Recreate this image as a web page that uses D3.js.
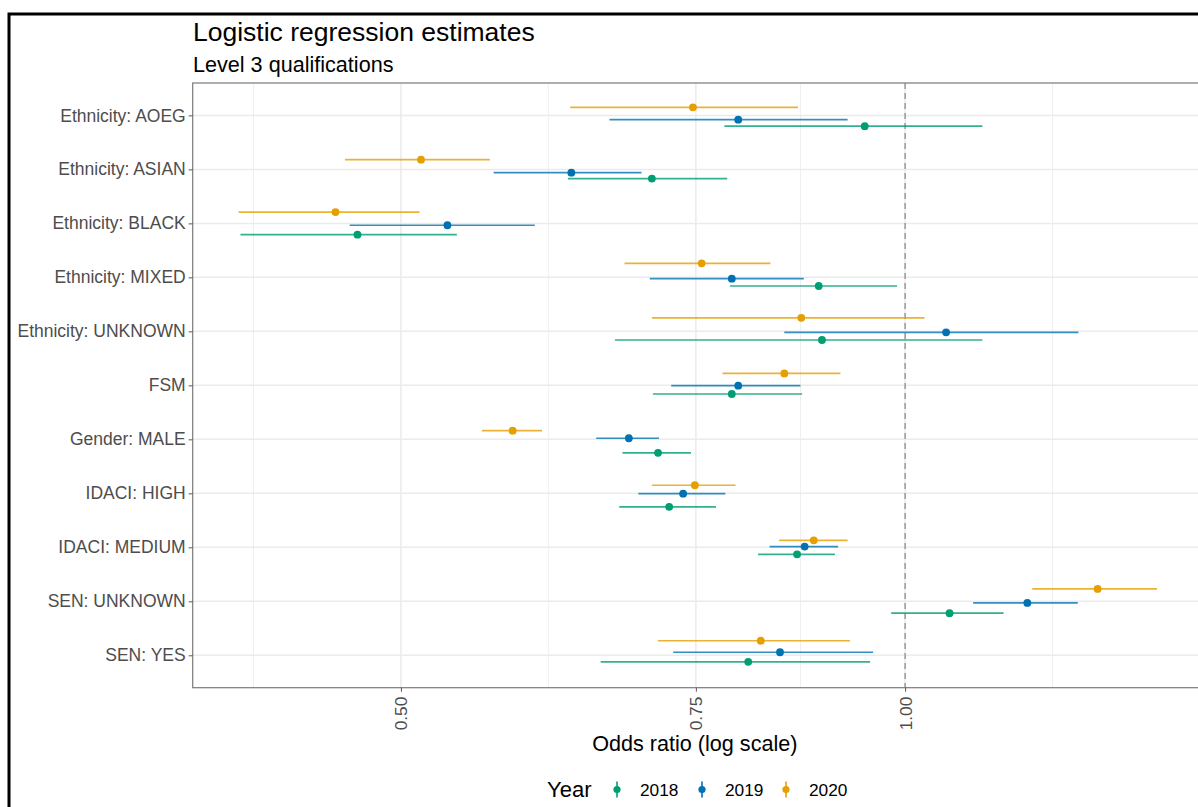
<!DOCTYPE html>
<html>
<head>
<meta charset="utf-8">
<script src="https://cdn.jsdelivr.net/npm/d3@7"></script>
<style>
  body { margin: 0; background: #fff; }
  text { font-family: "Liberation Sans", Arial, sans-serif; }
</style>
</head>
<body>
<svg id="chart" width="1198" height="807"></svg>
<script>
// categories, top to bottom
var categories = ["Ethnicity: AOEG", "Ethnicity: ASIAN", "Ethnicity: BLACK", "Ethnicity: MIXED",
  "Ethnicity: UNKNOWN", "FSM", "Gender: MALE", "IDACI: HIGH", "IDACI: MEDIUM", "SEN: UNKNOWN", "SEN: YES"];
var years = ["2018", "2019", "2020"];
var colors = ["#009E73", "#0072B2", "#E69F00"];

// odds ratio estimates and 95% interval, one array per year (same order as categories)
var est2018 = [0.946, 0.706, 0.471, 0.888, 0.892, 0.788, 0.712, 0.723, 0.862, 1.063, 0.806];
var lo2018  = [0.780, 0.629, 0.401, 0.786, 0.671, 0.707, 0.678, 0.675, 0.817, 0.981, 0.658];
var hi2018  = [1.112, 0.783, 0.540, 0.989, 1.112, 0.868, 0.745, 0.771, 0.908, 1.145, 0.953];

var est2019 = [0.795, 0.632, 0.533, 0.788, 1.058, 0.795, 0.684, 0.737, 0.871, 1.183, 0.842];
var lo2019  = [0.666, 0.568, 0.466, 0.704, 0.847, 0.725, 0.654, 0.693, 0.830, 1.098, 0.727];
var hi2019  = [0.924, 0.696, 0.601, 0.870, 1.269, 0.866, 0.713, 0.781, 0.912, 1.268, 0.957];

var est2020 = [0.747, 0.514, 0.457, 0.756, 0.867, 0.847, 0.583, 0.749, 0.882, 1.303, 0.820];
var lo2020  = [0.631, 0.463, 0.400, 0.680, 0.706, 0.778, 0.559, 0.706, 0.841, 1.191, 0.712];
var hi2020  = [0.863, 0.565, 0.513, 0.831, 1.027, 0.915, 0.607, 0.792, 0.924, 1.414, 0.927];

// vertical jitter of each estimate, in rows (positive = lower on the page)
var jit2018 = [0.20, 0.17, 0.21, 0.16, 0.16, 0.16, 0.25, 0.25, 0.13, 0.22, 0.12];
var jit2019 = [0.08, 0.06, 0.035, 0.024, 0.017, 0.006, -0.02, 0.006, -0.013, 0.03, -0.057];
var jit2020 = [-0.15, -0.18, -0.21, -0.26, -0.25, -0.22, -0.16, -0.15, -0.13, -0.23, -0.27];

var xTicks = [0.5, 0.75, 1.0];
var xTickLabels = ["0.50", "0.75", "1.00"];

var ests = [est2018, est2019, est2020];
var los = [lo2018, lo2019, lo2020];
var his = [hi2018, hi2019, hi2020];
var jits = [jit2018, jit2019, jit2020];

var rows = [];
years.forEach(function(yr, j) {
  categories.forEach(function(c, i) {
    rows.push({ cat: c, year: yr, yi: j, est: ests[j][i], lo: los[j][i], hi: his[j][i], jit: jits[j][i] });
  });
});

var svg = d3.select("#chart");
var pLeft = 192.7, pRight = 1203, pTop = 83, pBottom = 687.7;

// outer frame
svg.append("rect")
  .attr("x", 9).attr("y", 14)
  .attr("width", 1300).attr("height", 900)
  .attr("fill", "none").attr("stroke", "#000").attr("stroke-width", 3);

// log scale, 5% expansion in log space like ggplot
var minV = d3.min(rows, function(d) { return d.lo; });
var maxV = d3.max(rows, function(d) { return d.hi; });
var lmin = Math.log(minV), lmax = Math.log(maxV), pad = (lmax - lmin) * 0.05;
var x = d3.scaleLog().domain([Math.exp(lmin - pad), Math.exp(lmax + pad)]).range([pLeft, pRight]);

var y = d3.scalePoint().domain(categories).range([pTop, pBottom]).padding(0.6);
var step = y.step();

// minor breaks (ggplot style, midpoints in log space)
var lb = xTicks.map(Math.log);
var bd = lb[1] - lb[0];
var ext = [lb[0] - bd].concat(lb).concat([lb[lb.length - 1] + bd]);
var minor = [];
for (var k = 0; k < ext.length - 1; k++) minor.push(Math.exp((ext[k] + ext[k + 1]) / 2));
minor = minor.filter(function(v) { return x(v) > pLeft && x(v) < pRight; });

var grid = svg.append("g");
grid.selectAll(".minor").data(minor).enter().append("line")
  .attr("x1", function(d) { return x(d); }).attr("x2", function(d) { return x(d); })
  .attr("y1", pTop).attr("y2", pBottom)
  .attr("stroke", "#EBEBEB").attr("stroke-width", 0.8);
grid.selectAll(".majx").data(xTicks).enter().append("line")
  .attr("x1", function(d) { return x(d); }).attr("x2", function(d) { return x(d); })
  .attr("y1", pTop).attr("y2", pBottom)
  .attr("stroke", "#EBEBEB").attr("stroke-width", 1.5);
grid.selectAll(".majy").data(categories).enter().append("line")
  .attr("x1", pLeft).attr("x2", pRight)
  .attr("y1", function(d) { return y(d); }).attr("y2", function(d) { return y(d); })
  .attr("stroke", "#EBEBEB").attr("stroke-width", 1.5);

// reference line at 1
svg.append("line")
  .attr("x1", x(1)).attr("x2", x(1)).attr("y1", pTop).attr("y2", pBottom)
  .attr("stroke", "#8c8c8c").attr("stroke-width", 1.3).attr("stroke-dasharray", "6,4");

// intervals and points
var marks = svg.append("g");
marks.selectAll(".ci").data(rows).enter().append("line")
  .attr("x1", function(d) { return x(d.lo); })
  .attr("x2", function(d) { return x(d.hi); })
  .attr("y1", function(d) { return y(d.cat) + d.jit * step; })
  .attr("y2", function(d) { return y(d.cat) + d.jit * step; })
  .attr("stroke", function(d) { return colors[d.yi]; })
  .attr("stroke-width", 1.7).attr("stroke-opacity", 0.8);
marks.selectAll(".pt").data(rows).enter().append("circle")
  .attr("cx", function(d) { return x(d.est); })
  .attr("cy", function(d) { return y(d.cat) + d.jit * step; })
  .attr("r", 3.9)
  .attr("fill", function(d) { return colors[d.yi]; });

// panel border
svg.append("rect")
  .attr("x", pLeft).attr("y", pTop).attr("width", pRight - pLeft).attr("height", pBottom - pTop)
  .attr("fill", "none").attr("stroke", "#7a7a7a").attr("stroke-width", 1.2);

// y axis
var yAxis = svg.append("g").attr("transform", "translate(" + pLeft + ",0)")
  .call(d3.axisLeft(y).tickSize(4).tickPadding(3));
yAxis.select(".domain").remove();
yAxis.selectAll(".tick line").attr("stroke", "#555");
yAxis.selectAll(".tick text")
  .attr("fill", "#4D4D4D").style("font-size", "17.5px")
  .style("font-family", "'Liberation Sans', Arial, sans-serif");

// x axis
var xAxis = svg.append("g").attr("transform", "translate(0," + pBottom + ")")
  .call(d3.axisBottom(x).tickValues(xTicks).tickSize(4)
    .tickFormat(function(d, i) { return xTickLabels[i]; }));
xAxis.select(".domain").remove();
xAxis.selectAll(".tick line").attr("stroke", "#555");
xAxis.selectAll(".tick text")
  .attr("fill", "#4D4D4D").style("font-size", "17.3px")
  .style("font-family", "'Liberation Sans', Arial, sans-serif")
  .attr("text-anchor", "end")
  .attr("transform", "rotate(-90)")
  .attr("x", -9).attr("y", 0).attr("dy", "0.35em");

// titles
svg.append("text").attr("x", 193).attr("y", 41)
  .style("font-size", "26.5px").attr("fill", "#000").text("Logistic regression estimates");
svg.append("text").attr("x", 193).attr("y", 72)
  .style("font-size", "21.6px").attr("fill", "#000").text("Level 3 qualifications");
svg.append("text").attr("x", (pLeft + 1197) / 2).attr("y", 751)
  .attr("text-anchor", "middle")
  .style("font-size", "21.6px").attr("fill", "#000").text("Odds ratio (log scale)");

// legend
var legY = 789.5;
svg.append("text").attr("x", 547).attr("y", legY + 7.5)
  .style("font-size", "22px").attr("fill", "#000").text("Year");
var legX = [617, 702, 786];
var leg = svg.append("g").selectAll("g").data(years).enter().append("g")
  .attr("transform", function(d, i) { return "translate(" + legX[i] + "," + legY + ")"; });
leg.append("line").attr("x1", 0).attr("x2", 0).attr("y1", -8).attr("y2", 8)
  .attr("stroke", function(d, i) { return colors[i]; }).attr("stroke-width", 1.6);
leg.append("circle").attr("r", 3.6).attr("fill", function(d, i) { return colors[i]; });
leg.append("text").attr("x", 23).attr("y", 6)
  .style("font-size", "17.3px").attr("fill", "#000").text(function(d) { return d; });
</script>
</body>
</html>
